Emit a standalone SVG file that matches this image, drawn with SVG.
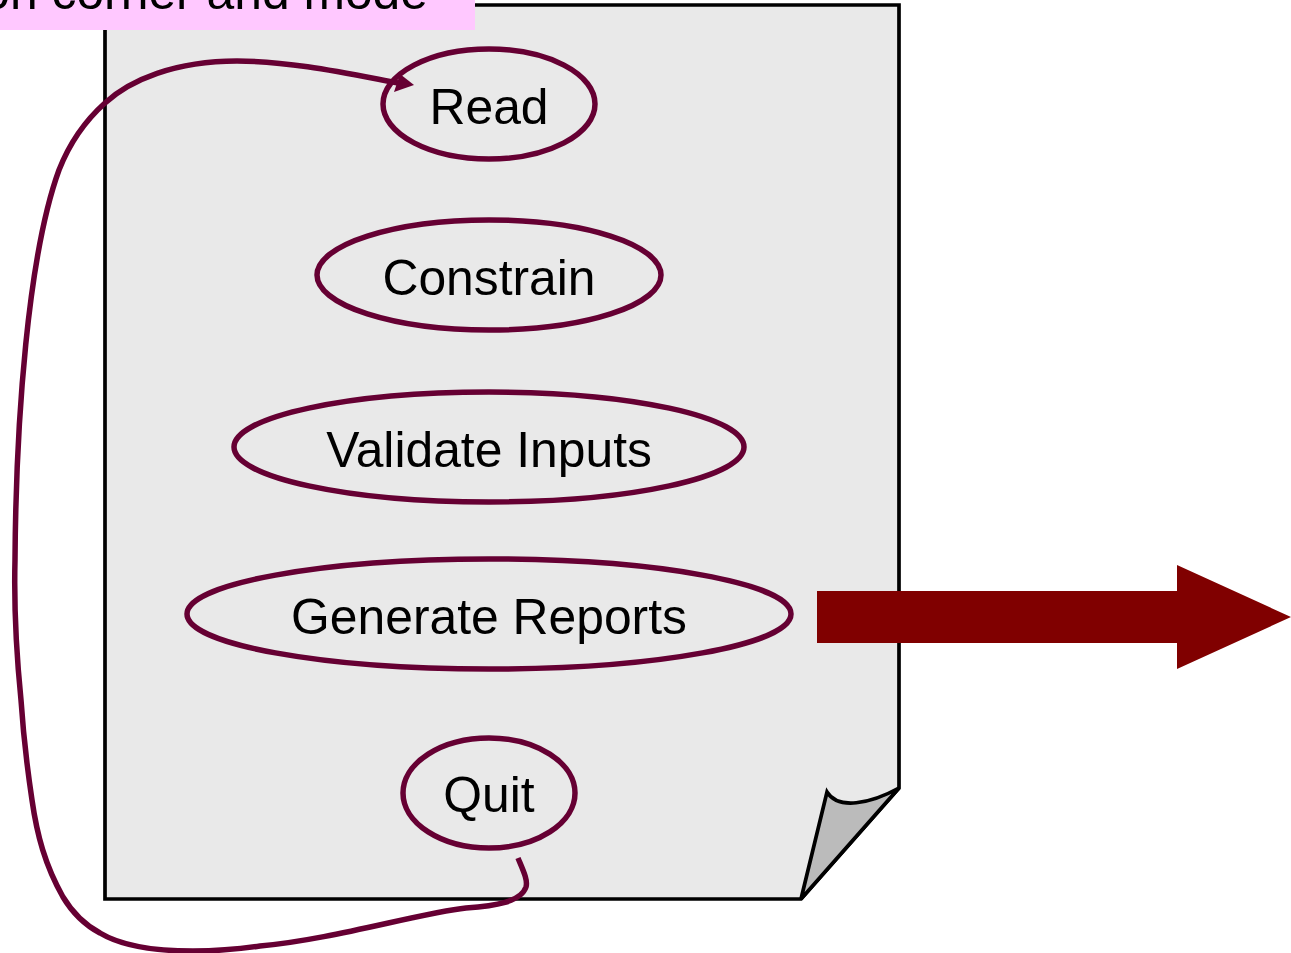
<svg xmlns="http://www.w3.org/2000/svg" width="1291" height="953" viewBox="0 0 1291 953">
<style>
.uc{fill:none;stroke:#660033;stroke-width:5.5}
text{font-family:"Liberation Sans",Arial,sans-serif;font-size:49.8px;fill:#000}
.c{text-anchor:middle}
.doc{stroke:#000;stroke-width:3.7;stroke-linejoin:miter}
</style>
<g id="document">
<path class="doc" fill="#e9e9e9" d="M105 5H899V788L801 899H105Z"/>
<path class="doc" fill="#bbb" d="M899 788C870 804 838 810 827 792L801 899Z"/>
</g>
<g id="read"><ellipse class="uc" cx="489" cy="104" rx="106" ry="55"/><text class="c" x="489" y="123.5">Read</text></g>
<g id="constrain"><ellipse class="uc" cx="489" cy="275" rx="172" ry="55"/><text class="c" x="489" y="294.5">Constrain</text></g>
<g id="validate"><ellipse class="uc" cx="489" cy="447" rx="255" ry="55"/><text class="c" x="489" y="466.5">Validate Inputs</text></g>
<g id="generate"><ellipse class="uc" cx="489" cy="614" rx="302" ry="55"/><text class="c" x="489" y="633.5">Generate Reports</text></g>
<g id="quit"><ellipse class="uc" cx="489" cy="793" rx="86" ry="55"/><text class="c" x="489" y="812">Quit</text></g>
<g id="connectors">
<path class="uc" d="M518 858C523 870 528 880 526 887C521 902 495 906 466 908C420 913 330 940 260 946C240 949 215 951 193 951C150 951 120 945 100 933C85 925 72 912 63 897C45 865 37 835 32 800C26 760 23 730 21 700C16 650 14 600 15 560C16 420 28 255 59 170C70 142 86 120 105 103C130 80 175 61 237 61C290 61 345 73 398 83"/>
<path fill="#660033" d="M414 85L394 92L400 74Z"/>
<path fill="#800000" d="M817 591H1177V565L1291 617L1177 669V643H817Z"/>
</g>
<g id="note"><rect x="-2" y="-30" width="477" height="60" fill="#ffc8ff"/><text x="428" y="9" text-anchor="end">on corner and mode</text></g>
</svg>
